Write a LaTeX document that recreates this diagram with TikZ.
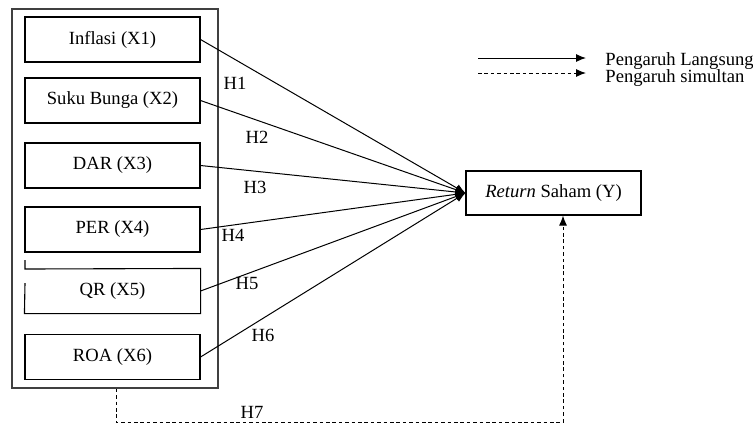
\documentclass[tikz,border=0pt]{standalone}
\usepackage{fontspec}
\setmainfont{Liberation Serif}
\usetikzlibrary{arrows.meta,calc}
\begin{document}
\begin{tikzpicture}[x=0.5pt,y=-0.5pt,
  every node/.style={font=\fontsize{9.3}{11}\selectfont},
  varbox/.style={draw, line width=0.55pt, minimum width=87.5pt, minimum height=22.5pt, inner sep=0pt},
  hlab/.style={inner sep=0pt},
  direct/.style={line width=0.5pt, -{Latex[length=5pt,width=4pt]}},
  simul/.style={line width=0.5pt, dash pattern=on 1.8pt off 1.4pt, -{Latex[length=5pt,width=4pt]}}]
\useasboundingbox (0,0) rectangle (753,425);
% outer frame
\node (outer) [draw, black!75, line width=0.8pt, minimum width=103pt, minimum height=189.5pt, inner sep=0pt] at (115,198.5) {};
% variable boxes
\node (x1) [varbox] at (112.5,39.5) {Inflasi (X1)};
\node (x2) [varbox] at (112.5,100.5) {Suku Bunga (X2)};
\node (x3) [varbox] at (112.5,165.5) {DAR (X3)};
\node (x4) [varbox] at (112.5,229.5) {PER (X4)};
\node (x5) [varbox, draw=none, minimum height=22pt] at (112.5,291) {QR (X5)};
\draw[line width=0.55pt] (25,260) -- (25,269) -- (x5.north east) -- (x5.south east) -- (x5.south west) -- (25,283);
\node (x6) [varbox] at (112.5,357) {ROA (X6)};
% dependent
\node (y) [varbox, minimum height=22pt] at (553.5,193) {\textit{Return} Saham (Y)};
% direct effects
\foreach \v in {x1,x2,x3,x4,x5,x6} \draw[direct] (\v.east) -- (y.west);
% labels
\node[hlab] (h1) at (235,83) {H1};
\node[hlab] (h2) at (257,137) {H2};
\node[hlab] (h3) at (255,187) {H3};
\node[hlab] (h4) at (233,235) {H4};
\node[hlab] (h5) at (247,283) {H5};
\node[hlab] (h6) at (263,335) {H6};
\node[hlab] (h7) at (252,412) {H7};
% simultaneous effect
\coordinate (s0) at ($(outer.south)+(1,0)$);
\coordinate (s1) at (116,422);
\coordinate (s2) at (563,422);
\coordinate (s3) at (563,215);
\draw[simul] (s0) -- (s1) -- (s2) -- (s3 |- y.south);
% legend
\coordinate (l1a) at (478,58);
\coordinate (l1b) at (586,58);
\coordinate (l2a) at (478,73);
\coordinate (l2b) at (586,73);
\draw[direct] (l1a) -- (l1b);
\draw[simul] (l2a) -- (l2b);
\node[hlab, anchor=base west] (t1) at (605,65) {Pengaruh Langsung};
\node[hlab, anchor=base west] (t2) at (605,82) {Pengaruh simultan};
\end{tikzpicture}
\end{document}
